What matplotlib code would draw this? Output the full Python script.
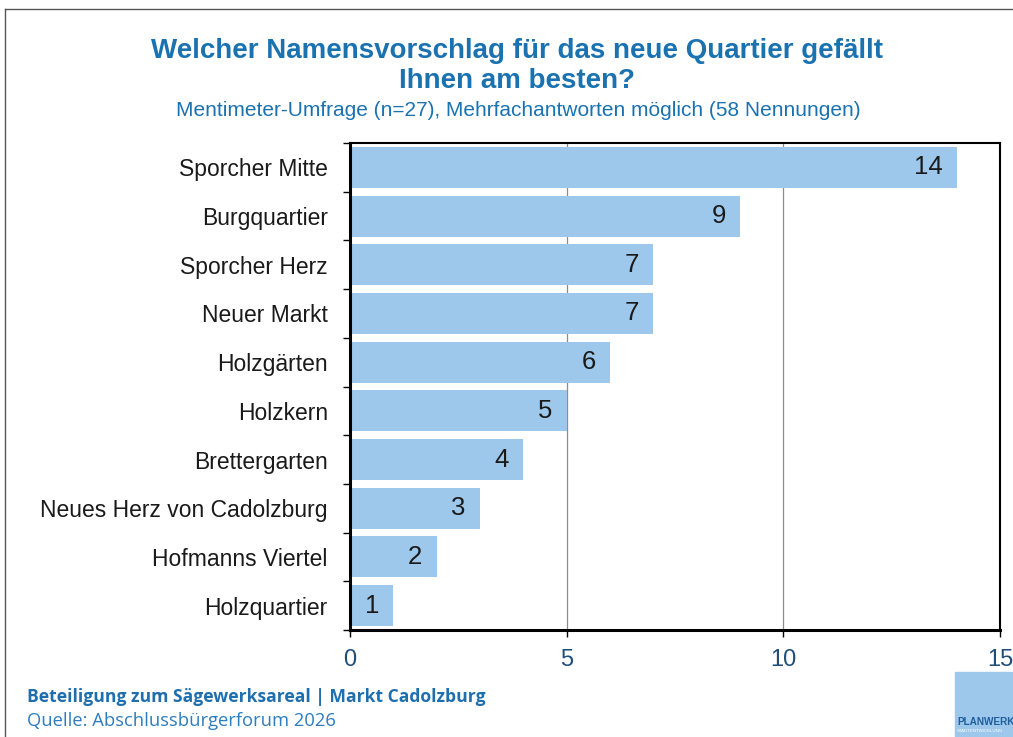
import matplotlib.pyplot as plt
from matplotlib.lines import Line2D
from matplotlib.patches import Rectangle


# ======================================================
# DATA
# ======================================================
names = [
    "Sporcher Mitte",
    "Burgquartier",
    "Sporcher Herz",
    "Neuer Markt",
    "Holzgärten",
    "Holzkern",
    "Brettergarten",
    "Neues Herz von Cadolzburg",
    "Hofmanns Viertel",
    "Holzquartier",
]
votes = [14, 9, 7, 7, 6, 5, 4, 3, 2, 1]
x_ticks = [0, 5, 10, 15]

TITLE_BLUE = "#1a72b0"
BAR_BLUE = "#9dc8eb"

plt.rcParams["font.family"] = ["Liberation Sans", "DejaVu Sans"]

# Create figure
fig = plt.figure(figsize=(10.13, 7.37), dpi=100)
ax = fig.add_axes([350 / 1013, 1 - 630 / 737, 650 / 1013, 487 / 737])

# Bars, top category first
positions = list(range(len(names)))[::-1]
ax.barh(positions, votes, height=0.84, color=BAR_BLUE, zorder=2)

# Value labels inside the bar ends
for pos, value in zip(positions, votes):
    ax.text(value - 0.33, pos, str(value), ha="right", va="center",
            fontsize=18.5, color="#1a1a1a", zorder=3)

# Axes
ax.set_xlim(0, 15)
ax.set_ylim(-0.46, 9.46)
ax.set_xticks(x_ticks)
ax.set_xticklabels([str(t) for t in x_ticks], fontsize=17, color="#1f4e79")
ax.set_yticks(positions)
ax.set_yticklabels(names, fontsize=16.5, color="#1a1a1a")
ax.tick_params(axis="y", length=0, pad=16)
ax.set_yticks([p + 0.5 for p in range(-1, len(names))], minor=True)
ax.tick_params(axis="y", which="minor", length=5, width=1, direction="out")
ax.tick_params(axis="x", length=5, width=1, pad=9)
ax.xaxis.grid(True, color="#8c8c8c", linewidth=0.9, zorder=1)
ax.set_axisbelow(True)
for side in ["top", "right"]:
    ax.spines[side].set_linewidth(1.5)
for side in ["left", "bottom"]:
    ax.spines[side].set_linewidth(2.2)

# Titles
fig.text(0.51, 1 - 66 / 737, "Welcher Namensvorschlag für das neue Quartier gefällt\nIhnen am besten?",
         ha="center", va="center", fontsize=20, fontweight="bold",
         color=TITLE_BLUE, linespacing=1.22)
fig.text(0.512, 1 - 110 / 737, "Mentimeter-Umfrage (n=27), Mehrfachantworten möglich (58 Nennungen)",
         ha="center", va="center", fontsize=15, color=TITLE_BLUE)

# Footer
fig.text(27 / 1013, 1 - 697 / 737, "Beteiligung zum Sägewerksareal | Markt Cadolzburg",
         ha="left", va="center", fontsize=12.6, fontweight="bold",
         color="#1f6fae", family="Open Sans")
fig.text(27 / 1013, 1 - 721 / 737, "Quelle: Abschlussbürgerforum 2026",
         ha="left", va="center", fontsize=13.2, color="#2e7dbf", family="Open Sans")

# Logo block
fig.patches.append(Rectangle((955 / 1013, 0), 60 / 1013, 65 / 737,
                             transform=fig.transFigure, color=BAR_BLUE, zorder=0))
fig.text(957 / 1013, 1 - 722 / 737, "PLANWERK", ha="left", va="center",
         fontsize=7.2, fontweight="bold", color="#1f5f9e")
fig.text(957 / 1013, 1 - 731 / 737, "STADTENTWICKLUNG", ha="left", va="center",
         fontsize=3.2, color="white")

# Slide frame lines
fig.add_artist(Line2D([5 / 1013, 1], [1 - 9 / 737, 1 - 9 / 737],
                      transform=fig.transFigure, color="#555555", linewidth=1))
fig.add_artist(Line2D([5 / 1013, 5 / 1013], [0, 1 - 9 / 737],
                      transform=fig.transFigure, color="#555555", linewidth=1))

fig.savefig("out.png", dpi=100)
